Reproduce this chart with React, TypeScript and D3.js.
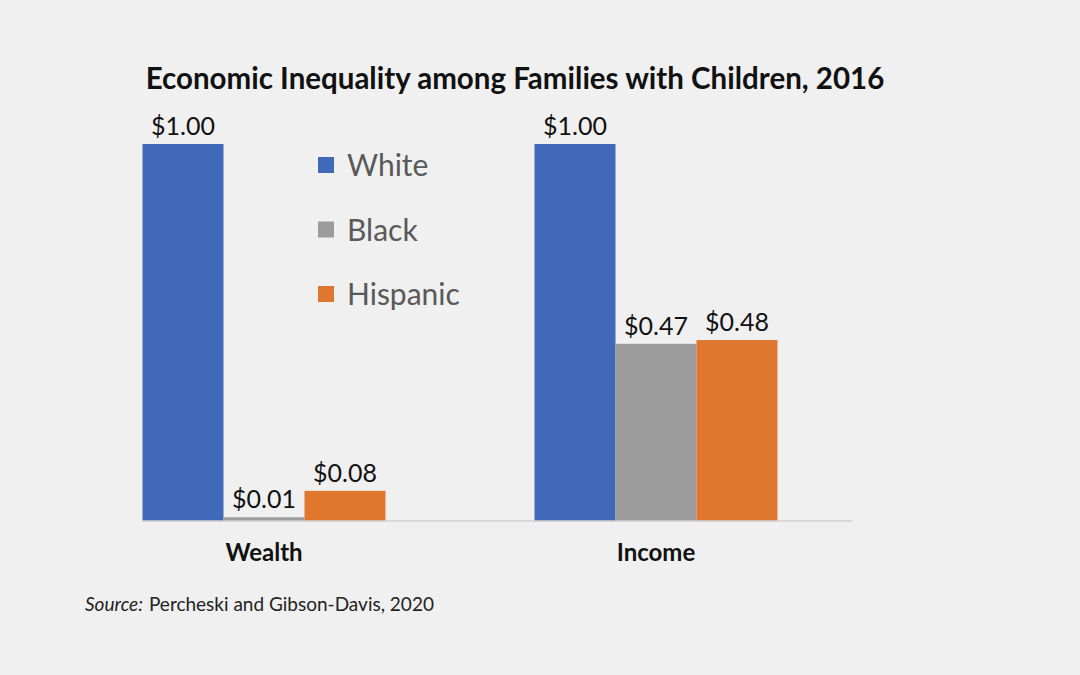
import React from "react";
import * as d3 from "d3";

const categories = ["Wealth", "Income"];
const seriesNames = ["White", "Black", "Hispanic"];
const whiteValues = [1.0, 1.0];
const blackValues = [0.01, 0.47];
const hispanicValues = [0.08, 0.48];
const seriesColors = ["#4169B9", "#9C9C9C", "#E0772F"];

const W = 1080;
const H = 675;
const FONT = "Lato, 'Open Sans', sans-serif";

export default function App() {
  const seriesValues = [whiteValues, blackValues, hispanicValues];
  const x0 = d3.scaleBand<string>().domain(categories).range([68, 852]).padding(0);
  const x1 = d3
    .scaleBand<string>()
    .domain(seriesNames)
    .range([0, x0.bandwidth()])
    .paddingInner(0)
    .paddingOuter(0.92);
  const y = d3.scaleLinear().domain([0, 1]).range([521, 144]);
  const fmt = (v: number) => "$" + d3.format(".2f")(v);

  const axisStart = (x0(categories[0]) ?? 0) + (x1(seriesNames[0]) ?? 0);
  const axisEnd = x0.range()[1];

  return (
    <svg
      width={W}
      height={H}
      style={{ position: "absolute", left: 0, top: 0, background: "#F0F0F0" }}
      fontFamily={FONT}
    >
      <rect x={0} y={0} width={W} height={H} fill="#F0F0F0" />
      <text x={515} y={89} textAnchor="middle" fontSize={29.5} fontWeight={700} fill="#111">
        Economic Inequality among Families with Children, 2016
      </text>
      {categories.map((c, ci) =>
        seriesNames.map((s, si) => {
          const v = seriesValues[si][ci];
          const bx = (x0(c) ?? 0) + (x1(s) ?? 0);
          return (
            <g key={c + s}>
              <rect
                x={bx}
                y={y(v)}
                width={x1.bandwidth()}
                height={y(0) - y(v)}
                fill={seriesColors[si]}
              />
              <text
                x={bx + x1.bandwidth() / 2}
                y={y(v) - 9}
                textAnchor="middle"
                fontSize={25}
                fill="#111"
              >
                {fmt(v)}
              </text>
            </g>
          );
        })
      )}
      <line x1={axisStart} x2={axisEnd} y1={y(0)} y2={y(0)} stroke="#D0D0D0" strokeWidth={1.5} />
      {categories.map((c) => (
        <text
          key={c}
          x={(x0(c) ?? 0) + x0.bandwidth() / 2}
          y={561}
          textAnchor="middle"
          fontSize={24}
          fontWeight={700}
          fill="#111"
        >
          {c}
        </text>
      ))}
      {seriesNames.map((s, i) => (
        <g key={s} transform={`translate(318, ${165 + i * 64.5})`}>
          <rect x={0} y={-8} width={16} height={16} fill={seriesColors[i]} />
          <text x={29} y={11} fontSize={30} fill="#595959">
            {s}
          </text>
        </g>
      ))}
      <text x={85} y={611} fontSize={19} fill="#222">
        <tspan fontStyle="italic">Source:</tspan>
        <tspan dx={6}>Percheski and Gibson-Davis, 2020</tspan>
      </text>
    </svg>
  );
}
